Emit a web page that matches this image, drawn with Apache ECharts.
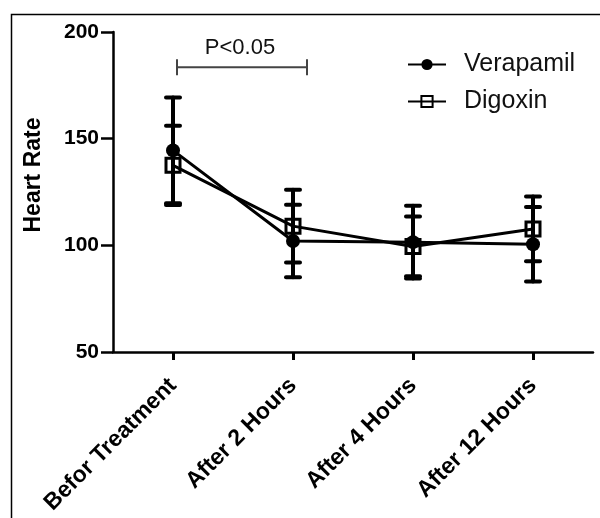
<!DOCTYPE html>
<html>
<head>
<meta charset="utf-8">
<script src="https://cdn.jsdelivr.net/npm/echarts@6/dist/echarts.min.js"></script>
<style>
  html, body { margin: 0; padding: 0; background: #fff; }
  #chart { width: 600px; height: 518px; }
</style>
</head>
<body>
<div id="chart"></div>
<script>
// data
var categories = ['Befor Treatment', 'After 2 Hours', 'After 4 Hours', 'After 12 Hours'];
var verapamilMean = [144.5, 102, 101.5, 100.5];
var verapamilSd = [24.8, 17, 17, 17.5];
var digoxinMean = [137.5, 109, 99.5, 107.7];
var digoxinSd = [18.6, 17, 14, 15.2];
var yTicks = [50, 100, 150, 200];
// significance bracket between two categories
var bracketFrom = 0, bracketTo = 1, bracketLevel = 183.5, bracketText = 'P<0.05';

var FONT = '"Liberation Sans", Arial, sans-serif';

function errData(mean, sd) {
  return mean.map(function (m, i) { return [i, m - sd[i], m + sd[i]]; });
}

function errRender(params, api) {
  var x = api.value(0);
  var top = api.coord([x, api.value(2)]);
  var bot = api.coord([x, api.value(1)]);
  var hw = 7;
  var st = { stroke: '#000', lineWidth: 4, lineCap: 'round' };
  return {
    type: 'group',
    children: [
      { type: 'line', shape: { x1: top[0], y1: top[1], x2: bot[0], y2: bot[1] }, style: st },
      { type: 'line', shape: { x1: top[0] - hw, y1: top[1], x2: top[0] + hw, y2: top[1] }, style: st },
      { type: 'line', shape: { x1: bot[0] - hw, y1: bot[1], x2: bot[0] + hw, y2: bot[1] }, style: st }
    ]
  };
}

function bracketRender(params, api) {
  var a = api.coord([api.value(0), api.value(2)]);
  var b = api.coord([api.value(1), api.value(2)]);
  var x1 = a[0] + 4, x2 = b[0] + 14, y = a[1];
  var st = { stroke: '#444', lineWidth: 2 };
  return {
    type: 'group',
    children: [
      { type: 'line', shape: { x1: x1, y1: y, x2: x2, y2: y }, style: st },
      { type: 'line', shape: { x1: x1, y1: y - 8, x2: x1, y2: y + 8 }, style: st },
      { type: 'line', shape: { x1: x2, y1: y - 8, x2: x2, y2: y + 8 }, style: st },
      { type: 'text', style: { x: (x1 + x2) / 2 - 2, y: y - 19, text: bracketText, fill: '#111',
        font: '22px ' + FONT, align: 'center', verticalAlign: 'middle' } }
    ]
  };
}

var chart = echarts.init(document.getElementById('chart'));

var option = {
  animation: false,
  backgroundColor: '#fff',
  graphic: [{
    type: 'rect',
    left: 9, top: 12,
    shape: { width: 700, height: 600 },
    style: { fill: 'none', stroke: '#000', lineWidth: 1.5 },
    silent: true
  }],
  legend: {
    orient: 'vertical',
    left: 407,
    top: 52,
    padding: 0,
    itemWidth: 38,
    itemHeight: 14,
    itemGap: 12,
    textStyle: { fontSize: 25, color: '#111', fontFamily: FONT, padding: [0, 0, 0, 13] },
    data: ['Verapamil', 'Digoxin']
  },
  grid: { left: 113, right: 7, top: 32, bottom: 166 },
  xAxis: {
    type: 'category',
    data: categories,
    boundaryGap: true,
    axisLine: { show: true, lineStyle: { color: '#000', width: 2.5 } },
    axisTick: { show: true, inside: false, alignWithLabel: true, length: 8, lineStyle: { color: '#000', width: 3 } },
    axisLabel: { rotate: 45, color: '#000', fontSize: 23, fontWeight: 'bold', fontFamily: FONT, margin: 30 }
  },
  yAxis: {
    type: 'value',
    min: yTicks[0],
    max: yTicks[yTicks.length - 1],
    interval: 50,
    name: 'Heart Rate',
    nameLocation: 'middle',
    nameGap: 68,
    nameTextStyle: { fontSize: 23, fontWeight: 'bold', color: '#000', fontFamily: FONT, padding: [0, 0, 0, 34] },
    splitLine: { show: false },
    axisLine: { show: true, lineStyle: { color: '#000', width: 2.5 } },
    axisTick: { show: true, inside: false, length: 12, lineStyle: { color: '#000', width: 2.5 } },
    axisLabel: { color: '#000', fontSize: 21, fontWeight: 'bold', fontFamily: FONT, margin: 14 }
  },
  series: [
    {
      type: 'custom',
      name: 'vErr',
      renderItem: errRender,
      data: errData(verapamilMean, verapamilSd),
      z: 1,
      silent: true
    },
    {
      type: 'custom',
      name: 'dErr',
      renderItem: errRender,
      data: errData(digoxinMean, digoxinSd),
      z: 1,
      silent: true
    },
    {
      name: 'Verapamil',
      type: 'line',
      data: verapamilMean,
      symbol: 'circle',
      symbolSize: 14,
      itemStyle: { color: '#000' },
      lineStyle: { color: '#000', width: 3 },
      z: 3
    },
    {
      name: 'Digoxin',
      type: 'line',
      data: digoxinMean,
      symbol: 'rect',
      symbolSize: 14,
      itemStyle: { color: 'rgba(0,0,0,0)', borderColor: '#000', borderWidth: 3 },
      lineStyle: { color: '#000', width: 3 },
      z: 4
    },
    {
      type: 'custom',
      name: 'bracket',
      renderItem: bracketRender,
      data: [[bracketFrom, bracketTo, bracketLevel]],
      z: 5,
      silent: true
    }
  ]
};

chart.setOption(option);
</script>
</body>
</html>
